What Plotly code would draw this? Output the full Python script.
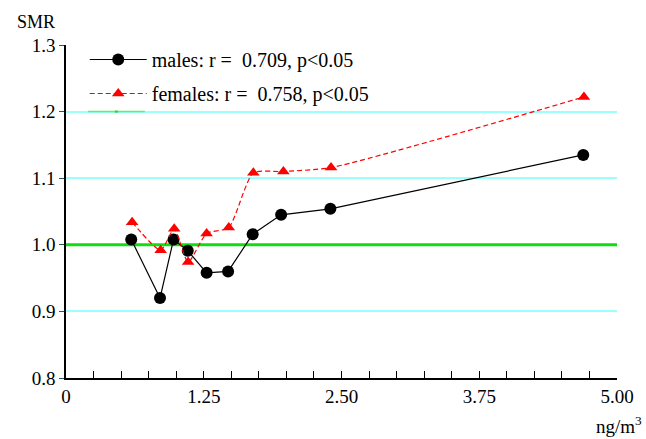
import plotly.graph_objects as go

males_x = [0.592, 0.853, 0.976, 1.105, 1.276, 1.471, 1.694, 1.952, 2.399, 4.694]
males_y = [1.008, 0.920, 1.008, 0.991, 0.958, 0.960, 1.016, 1.045, 1.054, 1.135]
females_x = [0.600, 0.859, 0.982, 1.108, 1.276, 1.477, 1.700, 1.973, 2.405, 4.700]
females_y = [1.034, 0.992, 1.024, 0.974, 1.017, 1.026, 1.108, 1.110, 1.116, 1.222]
x_tickvals = [0, 1.25, 2.5, 3.75, 5.0]
x_ticktext = ["0", "1.25", "2.50", "3.75", "5.00"]
y_tickvals = [0.8, 0.9, 1.0, 1.1, 1.2, 1.3]
y_ticktext = ["0.8", "0.9", "1.0", "1.1", "1.2", "1.3"]
x_range = [0, 5]
ref_level = 1.0

FONT = "Liberation Serif"

fig = go.Figure()
# reference line at SMR = 1.0
fig.add_trace(go.Scatter(
    x=x_range, y=[ref_level, ref_level], mode="lines", showlegend=False, hoverinfo="skip",
    line=dict(color="#11dd11", width=3), cliponaxis=False))
fig.add_trace(go.Scatter(
    x=males_x, y=males_y, mode="lines+markers", name="males: r =\u00a0 0.709, p<0.05",
    line=dict(color="black", width=1.2), marker=dict(symbol="circle", size=12, color="black"),
    legendgroup="m"))
fig.add_trace(go.Scatter(
    x=females_x, y=females_y, mode="lines+markers", name="females: r =\u00a0 0.758, p<0.05",
    line=dict(color="red", width=1.2, dash="5px,3px", shape="spline", smoothing=0.6),
    marker=dict(symbol="triangle-up", size=11, color="red"),
    legendgroup="f"))

# small green legend artifact
fig.add_shape(type="line", xref="paper", yref="y", x0=0.04, x1=0.143, y0=1.2, y1=1.2,
              line=dict(color="#66ee66", width=1.5))
fig.add_shape(type="rect", xref="paper", yref="y", x0=0.0888, x1=0.0942, y0=1.1985, y1=1.2015,
              line=dict(width=0), fillcolor="#22dd22")

fig.update_layout(
    width=646, height=439,
    margin=dict(l=66, r=25, t=45, b=61),
    plot_bgcolor="white", paper_bgcolor="white",
    font=dict(family=FONT, size=19, color="black"),
    showlegend=True,
    legend=dict(x=0.034, y=1.015, xanchor="left", yanchor="top", bgcolor="rgba(0,0,0,0)",
                font=dict(family=FONT, size=20), itemwidth=57, tracegroupgap=5,
                traceorder="grouped"),
    xaxis=dict(range=x_range, tickvals=x_tickvals, ticktext=x_ticktext, ticks="inside",
               ticklen=7, tickcolor="black", showline=True, linecolor="black", linewidth=1.5,
               showgrid=False, zeroline=False, tickfont=dict(family=FONT, size=19),
               minor=dict(ticks="inside", dtick=0.25, tick0=0, ticklen=7, tickcolor="black",
                          showgrid=False)),
    yaxis=dict(range=[0.8, 1.3], tickvals=y_tickvals, ticktext=y_ticktext, ticks="outside",
               ticklen=5, tickcolor="#335555", showline=True, linecolor="black", linewidth=1.5,
               showgrid=True, gridcolor="#99ffff", gridwidth=1.5, zeroline=False,
               tickfont=dict(family=FONT, size=19)),
)
fig.add_annotation(text="SMR", xref="paper", yref="paper", x=-0.092, y=1.032, xanchor="left",
                   yanchor="bottom", showarrow=False, font=dict(family=FONT, size=18))
fig.add_annotation(text="ng/m<sup>3</sup>", xref="paper", yref="paper", x=1.004, y=-0.1,
                   xanchor="center", yanchor="top", showarrow=False, font=dict(family=FONT, size=19))

fig.write_html("out.html", config={"displayModeBar": False},
               post_script="document.body.style.margin='0';")
